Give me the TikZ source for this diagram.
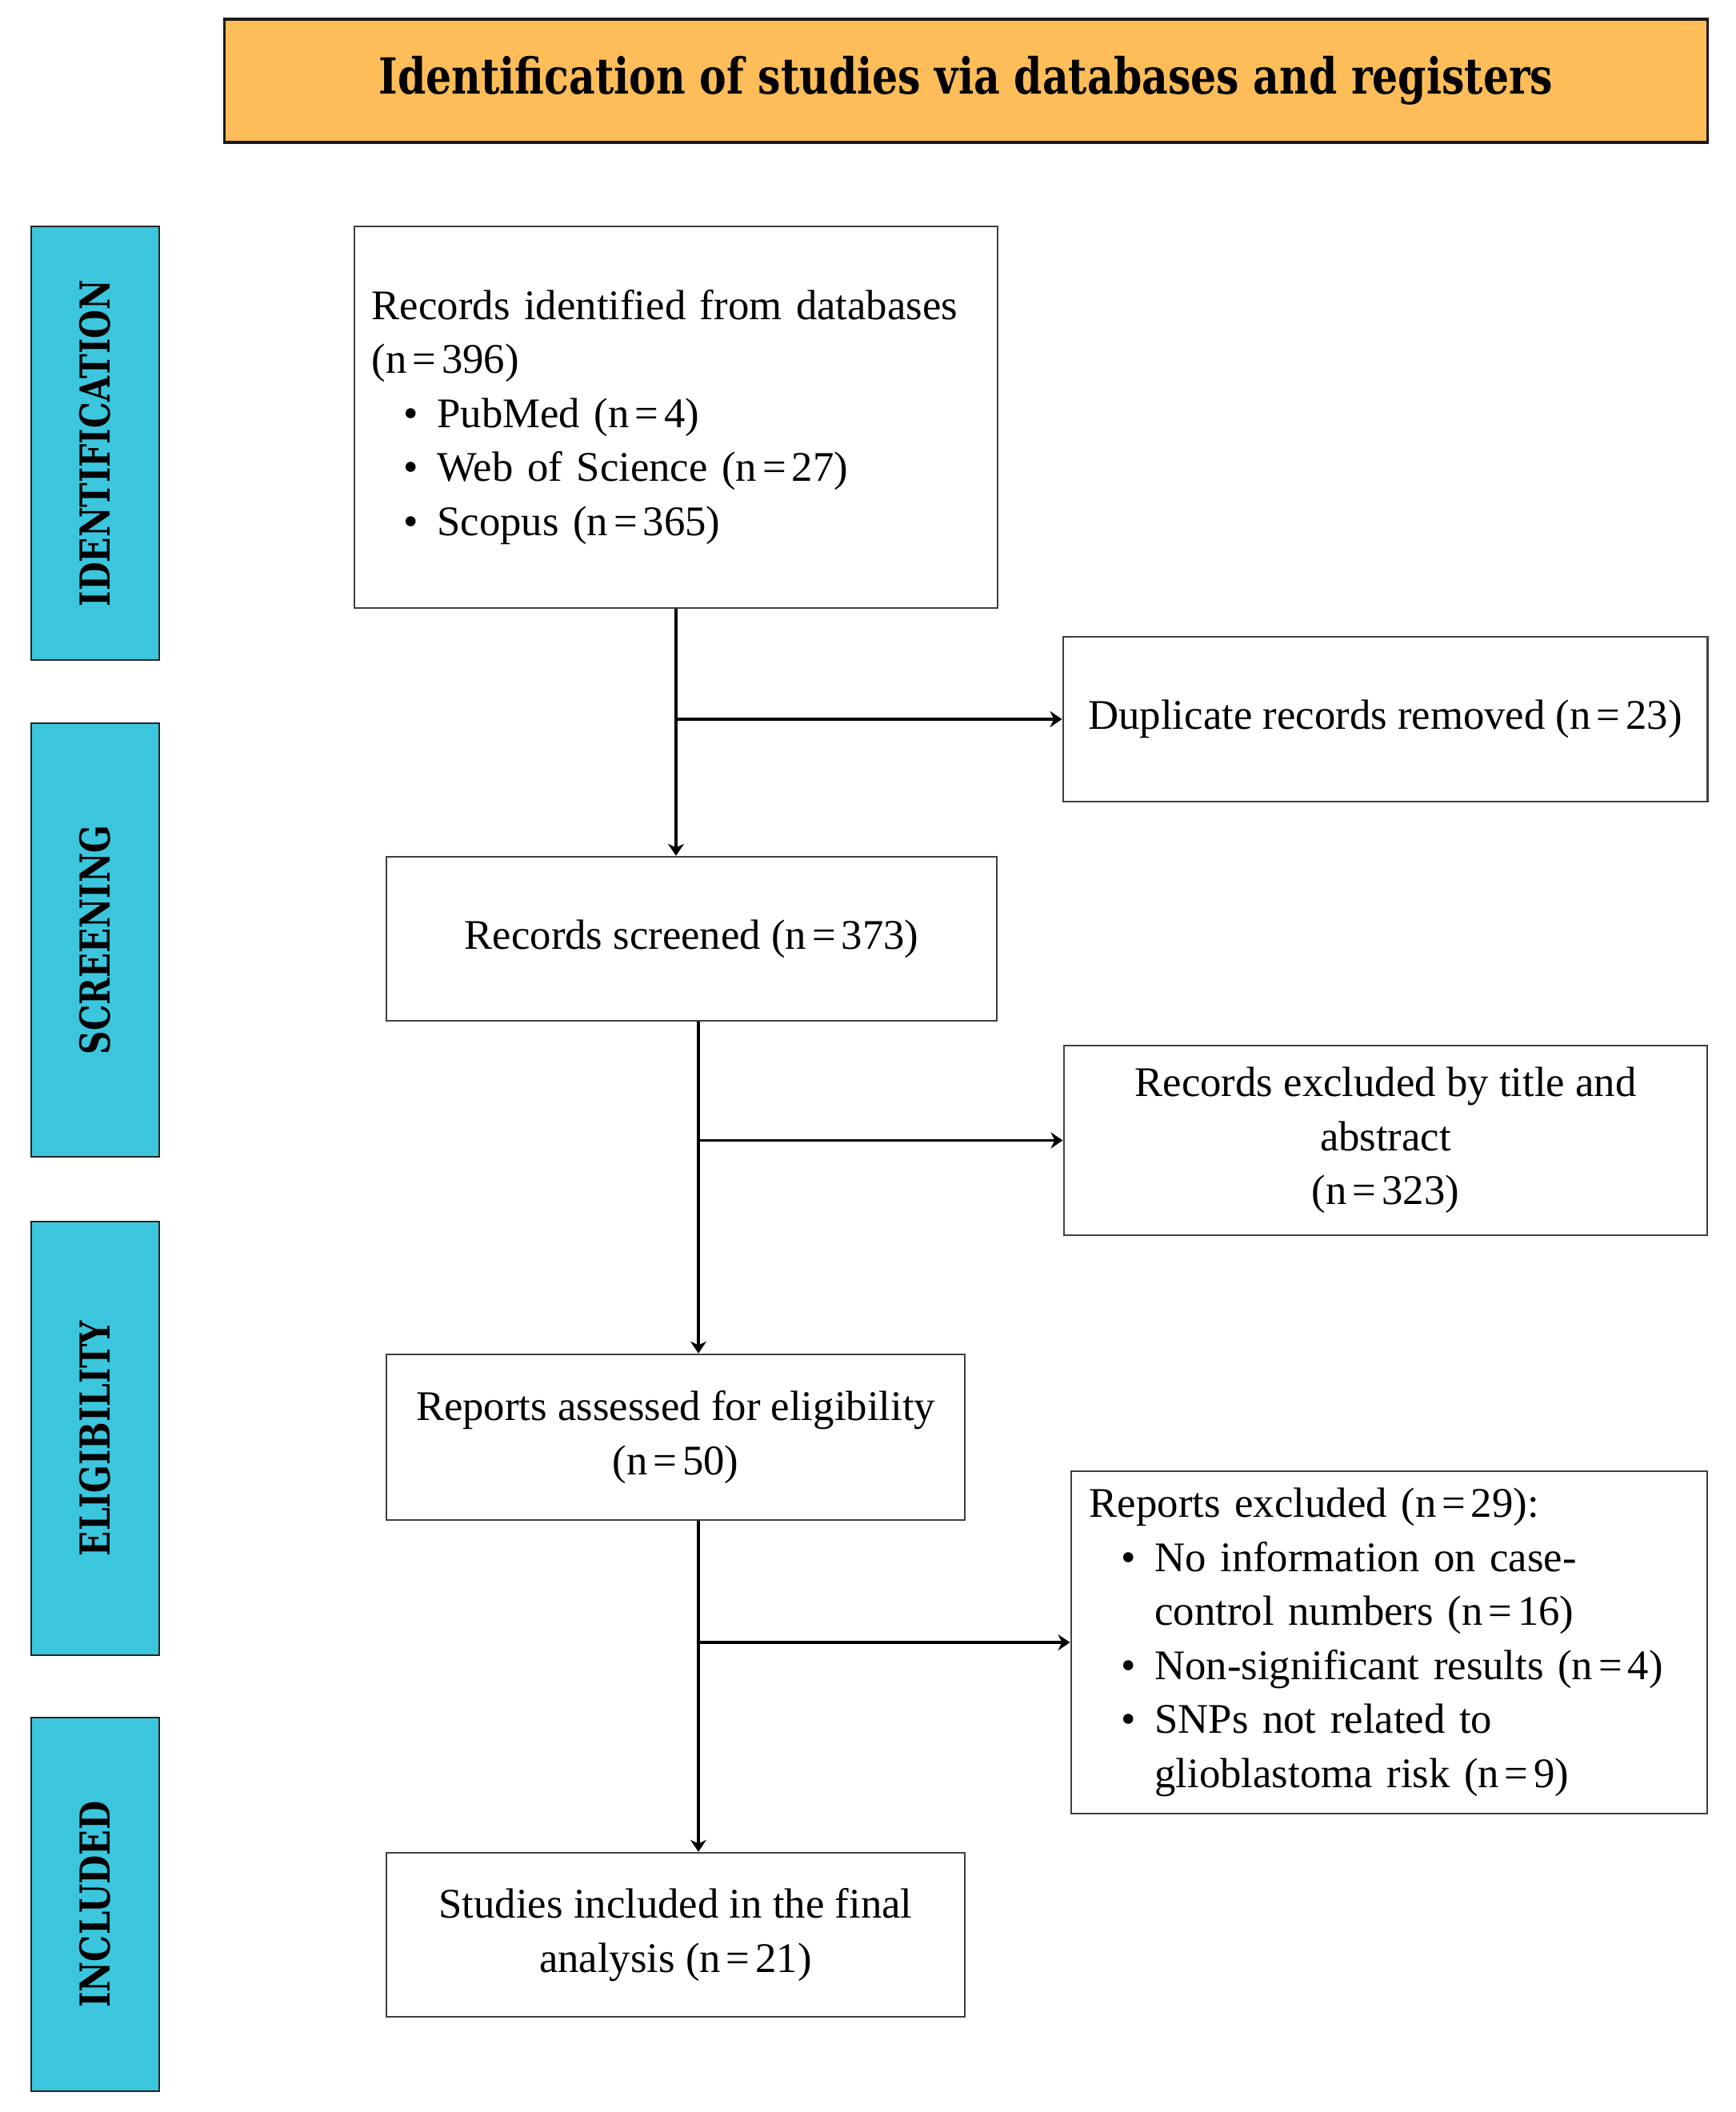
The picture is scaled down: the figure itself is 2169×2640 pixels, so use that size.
\documentclass[tikz,border=0pt]{standalone}
\usepackage{fontspec}
\setmainfont{Liberation Serif}
\newfontfamily\slabfont{DejaVu Serif}
\usetikzlibrary{arrows.meta}
\definecolor{titleorange}{RGB}{254,189,89}
\definecolor{barcyan}{RGB}{59,198,222}
\tikzset{
  stage/.style={draw=black!85, line width=0.6pt, fill=barcyan, rotate=90, minimum height=1.6cm, inner sep=0pt},
  flowbox/.style={draw=black!75, line width=0.7pt, fill=white, inner sep=0pt, align=center, font=\fontsize{15}{19.2}\selectfont},
  conn/.style={line width=1.1pt, -{Stealth[length=0.15cm,width=0.2cm]}}
}
\newcommand{\stagelabel}[2]{\resizebox*{#1}{0.39cm}{\slabfont\bfseries #2}}
\newcommand{\myBullet}{\hspace*{0.4cm}\makebox[0.415cm][l]{\textbullet}}
\newcommand{\myIndent}{\hspace*{0.815cm}}
\newcommand{\eqs}{\hspace{0.13em}=\hspace{0.13em}}
\begin{document}
\begin{tikzpicture}[x=0.01cm,y=-0.01cm]
\fill[white] (0,0) rectangle (2169,2640);
\useasboundingbox (0,0) rectangle (2169,2640);
\node[draw=black!90, line width=0.9pt, fill=titleorange, minimum width=18.53cm, minimum height=1.54cm, inner sep=0pt] (title) at (1207.5,101) {\resizebox*{14.67cm}{0.61cm}{\slabfont\bfseries Identification of studies via databases and registers}};
\node[stage, minimum width=5.42cm] (sid) at (119,554) {\stagelabel{4.08cm}{IDENTIFICATION}};
\node[stage, minimum width=5.41cm] (ssc) at (119,1175) {\stagelabel{2.86cm}{SCREENING}};
\node[stage, minimum width=5.42cm] (sel) at (119,1798) {\stagelabel{2.94cm}{ELIGIBILITY}};
\node[stage, minimum width=4.67cm] (sin) at (119,2380.5) {\stagelabel{2.58cm}{INCLUDED}};
\node[flowbox, align=left, minimum width=8.04cm, minimum height=4.77cm, text width=7.60cm, inner xsep=0.22cm] (ident) at (845,521.5) {Records identified from databases\\(n\eqs 396)\\\myBullet PubMed (n\eqs 4)\\\myBullet Web of Science (n\eqs 27)\\\myBullet Scopus (n\eqs 365)};
\node[flowbox, minimum width=8.05cm, minimum height=2.06cm] (dup) at (1731.5,899) {Duplicate records removed (n\eqs 23)};
\node[flowbox, minimum width=7.63cm, minimum height=2.05cm] (scr) at (864.5,1173.5) {Records screened (n\eqs 373)};
\node[flowbox, minimum width=8.04cm, minimum height=2.37cm] (exc1) at (1732,1425.5) {Records excluded by title and\\abstract\\(n\eqs 323)};
\node[flowbox, minimum width=7.23cm, minimum height=2.07cm] (ass) at (844.5,1796.5) {Reports assessed for eligibility\\(n\eqs 50)};
\node[flowbox, align=left, minimum width=7.95cm, minimum height=4.28cm, text width=7.49cm, inner xsep=0.23cm] (exc2) at (1736.5,2053) {Reports excluded (n\eqs 29):\\\myBullet No information on case-\\\myIndent control numbers (n\eqs 16)\\\myBullet Non-significant results (n\eqs 4)\\\myBullet SNPs not related to\\\myIndent glioblastoma risk (n\eqs 9)};
\node[flowbox, minimum width=7.23cm, minimum height=2.05cm] (inc) at (844.5,2418.5) {Studies included in the final\\analysis (n\eqs 21)};
\coordinate (sp2) at (873,0);
\draw[conn] (ident.south) -- (ident.south |- scr.north);
\draw[conn] (ident.south |- dup.west) -- (dup.west);
\draw[conn] (scr.south -| sp2) -- (ass.north -| sp2);
\draw[conn] (sp2 |- exc1.west) -- (exc1.west);
\draw[conn] (ass.south -| sp2) -- (inc.north -| sp2);
\draw[conn] (sp2 |- exc2.west) -- (exc2.west);
\end{tikzpicture}
\end{document}
